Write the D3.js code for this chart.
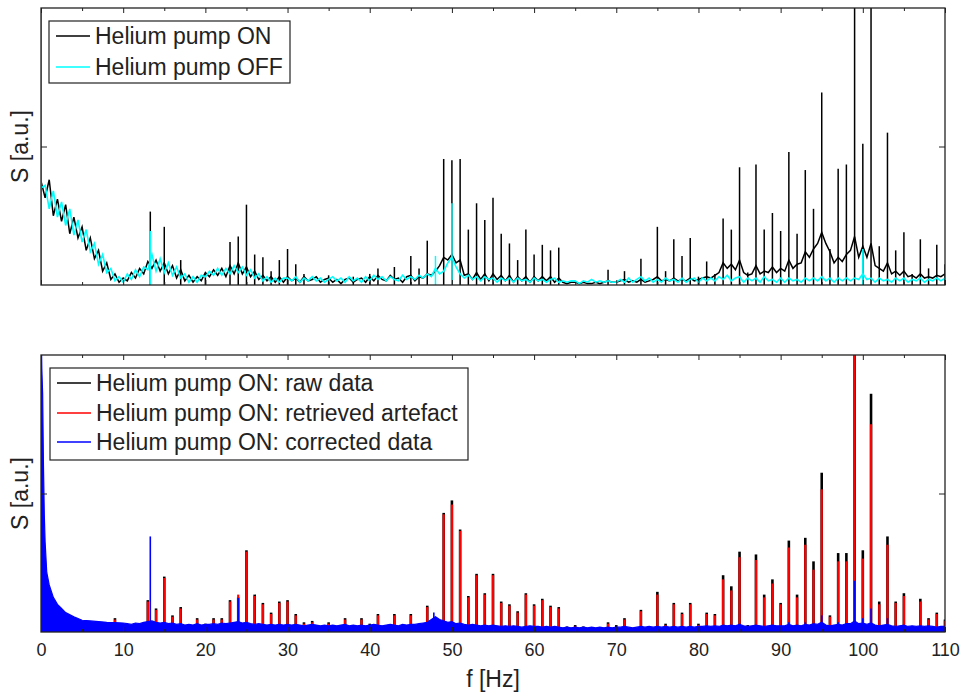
<!DOCTYPE html>
<html>
<head>
<meta charset="utf-8">
<script src="https://cdn.jsdelivr.net/npm/d3@7"></script>
<style>
  body { margin: 0; background: #fff; }
  svg { display: block; }
  text { font-family: "Liberation Sans", Arial, Helvetica, sans-serif; }
</style>
</head>
<body>
<svg id="chart" width="964" height="693"></svg>
<script>
// ---- spectra (S in a.u., f in Hz) ----
// Background spectra sampled every fStep Hz starting at 0 Hz
const fStep = 0.5;

const offBase = [
  0.70,0.72,0.55,0.68,0.49,0.60,0.43,0.55,0.36,0.47,
  0.31,0.40,0.24,0.30,0.15,0.22,0.09,0.12,0.03,0.06,
  0.02,0.08,0.04,0.11,0.06,0.13,0.11,0.22,0.10,0.19,
  0.09,0.16,0.07,0.13,0.05,0.08,0.02,0.06,0.02,0.07,
  0.06,0.10,0.07,0.12,0.07,0.12,0.08,0.14,0.09,0.13,
  0.07,0.11,0.05,0.08,0.03,0.06,0.02,0.05,0.02,0.05,
  0.05,0.03,0.06,0.02,0.05,0.03,0.06,0.03,0.05,0.02,
  0.04,0.06,0.03,0.05,0.02,0.06,0.03,0.05,0.02,0.06,
  0.03,0.07,0.04,0.06,0.03,0.06,0.04,0.03,0.07,0.04,
  0.06,0.04,0.07,0.05,0.08,0.06,0.12,0.08,0.10,0.16,
  0.20,0.13,0.08,0.05,0.07,0.04,0.06,0.03,0.06,0.04,
  0.05,0.02,0.05,0.03,0.05,0.02,0.05,0.03,0.04,0.02,
  0.05,0.03,0.04,0.02,0.04,0.05,0.02,0.03,0.02,0.03,
  0.03,0.01,0.03,0.02,0.04,0.02,0.03,0.02,0.03,0.02,
  0.02,0.04,0.02,0.05,0.02,0.04,0.06,0.03,0.05,0.02,
  0.04,0.02,0.05,0.03,0.04,0.02,0.05,0.02,0.04,0.05,
  0.02,0.05,0.03,0.05,0.03,0.06,0.04,0.07,0.03,0.05,
  0.06,0.02,0.05,0.03,0.05,0.02,0.06,0.03,0.04,0.02,
  0.05,0.02,0.05,0.03,0.04,0.02,0.05,0.03,0.05,0.03,
  0.06,0.03,0.05,0.02,0.05,0.03,0.05,0.03,0.05,0.04,
  0.08,0.04,0.05,0.02,0.05,0.03,0.04,0.02,0.05,0.03,
  0.05,0.02,0.04,0.03,0.05,0.02,0.04,0.03,0.05,0.03,
  0.05
];

const onBase = [
  0.75,0.63,0.76,0.50,0.62,0.46,0.58,0.37,0.49,0.34,
  0.42,0.25,0.34,0.19,0.25,0.10,0.16,0.04,0.08,0.02,
  0.05,0.03,0.09,0.05,0.12,0.08,0.17,0.12,0.18,0.10,
  0.16,0.08,0.14,0.05,0.11,0.03,0.07,0.02,0.06,0.03,
  0.09,0.06,0.11,0.07,0.12,0.06,0.14,0.08,0.16,0.08,
  0.13,0.06,0.10,0.04,0.07,0.03,0.06,0.02,0.06,0.02,
  0.06,0.03,0.05,0.02,0.06,0.03,0.04,0.06,0.02,0.04,
  0.05,0.02,0.04,0.01,0.04,0.05,0.02,0.04,0.05,0.02,
  0.06,0.03,0.07,0.04,0.03,0.07,0.04,0.05,0.02,0.06,
  0.07,0.03,0.06,0.05,0.08,0.07,0.10,0.14,0.20,0.18,
  0.22,0.16,0.18,0.07,0.08,0.04,0.09,0.04,0.08,0.03,
  0.08,0.04,0.07,0.03,0.07,0.02,0.06,0.03,0.06,0.02,
  0.06,0.03,0.06,0.03,0.06,0.02,0.05,0.02,0.01,0.02,
  0.02,0.01,0.02,0.01,0.01,0.02,0.01,0.02,0.03,0.02,
  0.02,0.03,0.04,0.02,0.03,0.02,0.04,0.02,0.03,0.04,
  0.06,0.03,0.04,0.03,0.05,0.03,0.04,0.03,0.05,0.03,
  0.04,0.05,0.06,0.05,0.07,0.09,0.16,0.12,0.15,0.11,
  0.18,0.09,0.07,0.08,0.14,0.08,0.10,0.09,0.13,0.09,
  0.12,0.10,0.18,0.12,0.15,0.16,0.24,0.20,0.26,0.30,
  0.38,0.30,0.24,0.16,0.20,0.17,0.22,0.25,0.35,0.20,
  0.28,0.20,0.30,0.14,0.12,0.10,0.16,0.08,0.10,0.07,
  0.10,0.06,0.07,0.05,0.08,0.05,0.06,0.05,0.07,0.06,
  0.08
];

// Narrow spectral lines: [f, S]
const onPeaks = [
  [0,2.3],[13.3,0.53],[15,0.42],[17,0.18],[20,0.08],[23,0.31],
  [24,0.35],[25,0.58],[26,0.22],[27,0.2],[28,0.1],[29,0.18],[30,0.26],[31,0.15],[32,0.08],
  [35,0.07],[38,0.06],[40,0.08],[41,0.12],[43,0.13],[45,0.21],[46,0.12],[47,0.32],[49,0.91],
  [50,0.9],[51,0.91],[52,0.4],[53,0.59],[54,0.47],[55,0.63],[56,0.37],[57,0.3],
  [58,0.18],[59,0.4],[60,0.22],[61,0.29],[62,0.25],[63,0.27],[69,0.11],[71,0.1],
  [73,0.19],[75,0.42],[76,0.1],[77,0.33],[78,0.21],[79,0.34],[80,0.06],[81,0.17],
  [82,0.08],[83,0.48],[84,0.4],[85,0.85],[86,0.09],[87,0.87],[88,0.4],[89,0.52],
  [90,0.39],[91,0.96],[92,0.37],[93,0.83],[94,0.55],[95,1.39],[96,0.26],[97,0.84],
  [98,0.87],[99,2.3],[100,1.02],[101,2.3],[102,0.28],[103,1.1],[104,0.25],[105,0.38],
  [106,0.08],[107,0.33],[108,0.12],[109,0.29],[110,0.15]
];
const offPeaks = [[0,2.3],[13.3,0.39],[48,0.21],[50,0.59],[100,0.26]];

// Lower panel: raw data, retrieved artefact and corrected data
const rawPeaks = [
  [9,0.1],[13,0.23],[14,0.17],[15,0.4],[16,0.12],[17,0.18],[18,0.05],[19,0.1],[20,0.06],
  [21,0.1],[22,0.1],[23,0.23],[24,0.25],[25,0.59],[26,0.27],[27,0.21],[28,0.14],[29,0.22],
  [30,0.23],[31,0.13],[32,0.07],[33,0.08],[35,0.07],[37,0.1],[38,0.04],[39,0.1],[40,0.06],
  [41,0.13],[42,0.04],[43,0.13],[44,0.03],[45,0.13],[46,0.05],[47,0.19],[49,0.86],[50,0.95],
  [51,0.74],[52,0.26],[53,0.42],[54,0.28],[55,0.42],[56,0.22],[57,0.2],[58,0.15],[59,0.28],
  [60,0.2],[61,0.24],[62,0.19],[63,0.18],[64,0.04],[65,0.05],[66,0.04],[69,0.07],[70,0.05],
  [71,0.1],[73,0.16],[75,0.29],[76,0.06],[77,0.21],[78,0.14],[79,0.21],[80,0.06],[81,0.14],
  [82,0.13],[83,0.41],[84,0.33],[85,0.58],[86,0.05],[87,0.56],[88,0.27],[89,0.38],[90,0.21],
  [91,0.66],[92,0.27],[93,0.68],[94,0.51],[95,1.15],[96,0.12],[97,0.57],[98,0.57],[99,2.3],
  [100,0.59],[101,1.72],[102,0.22],[103,0.69],[104,0.22],[105,0.28],[106,0.04],[107,0.24],
  [108,0.1],[109,0.14],[110,0.09]
];
const artefactPeaks = [
  [9,0.09],[13,0.22],[14,0.16],[15,0.39],[16,0.11],[17,0.17],[18,0.04],[19,0.09],[20,0.04],
  [21,0.09],[22,0.09],[23,0.22],[24,0.27],[25,0.58],[26,0.26],[27,0.2],[28,0.13],[29,0.21],
  [30,0.22],[31,0.12],[32,0.06],[33,0.07],[35,0.06],[37,0.09],[38,0.03],[39,0.09],[40,0.04],
  [41,0.12],[42,0.03],[43,0.12],[44,0.02],[45,0.12],[46,0.04],[47,0.18],[49,0.85],[50,0.92],
  [51,0.73],[52,0.25],[53,0.41],[54,0.27],[55,0.41],[56,0.21],[57,0.19],[58,0.14],[59,0.27],
  [60,0.19],[61,0.23],[62,0.18],[63,0.17],[64,0.03],[65,0.04],[66,0.03],[69,0.06],[70,0.03],
  [71,0.09],[73,0.15],[75,0.27],[76,0.05],[77,0.2],[78,0.13],[79,0.2],[80,0.05],[81,0.13],
  [82,0.12],[83,0.38],[84,0.3],[85,0.54],[86,0.04],[87,0.52],[88,0.25],[89,0.35],[90,0.2],
  [91,0.61],[92,0.25],[93,0.63],[94,0.45],[95,1.03],[96,0.11],[97,0.51],[98,0.51],[99,2.3],
  [100,0.53],[101,1.5],[102,0.2],[103,0.63],[104,0.21],[105,0.26],[106,0.03],[107,0.22],
  [108,0.09],[109,0.13],[110,0.08]
];
const correctedPeaks = [
  [13.3,0.69],[24,0.245],[47.8,0.14],[85,0.06],[91,0.07],[93,0.07],[95,0.12],[97,0.07],
  [99,0.37],[100,0.1],[101,0.17],[103,0.1]
];
// Corrected-data noise floor: dense samples below 10 Hz, then every fStep Hz from 10.5 Hz
const correctedLowF = [0,0.05,0.1,0.2,0.3,0.4,0.5,0.7,1,1.5,2,2.5,3,4,5,6,7,8,9,10];
const correctedLowS = [2.3,2.1,1.9,1.72,1.2,0.85,0.65,0.43,0.34,0.25,0.2,0.17,0.14,0.11,0.085,0.08,0.075,0.07,0.068,0.065];
const correctedStart = 10.5;
const correctedEnv = [
  0.06,0.055,0.065,0.06,0.07,0.075,0.08,0.07,0.065,0.07,
  0.06,0.065,0.055,0.06,0.05,0.055,0.05,0.06,0.05,0.055,
  0.055,0.06,0.055,0.065,0.06,0.065,0.07,0.075,0.065,0.07,
  0.06,0.055,0.06,0.055,0.05,0.055,0.05,0.055,0.05,0.055,
  0.05,0.055,0.05,0.045,0.05,0.055,0.05,0.045,0.05,0.045,
  0.05,0.045,0.05,0.055,0.045,0.05,0.045,0.05,0.045,0.05,
  0.055,0.05,0.045,0.05,0.055,0.05,0.045,0.055,0.05,0.055,
  0.055,0.06,0.065,0.07,0.09,0.11,0.09,0.08,0.07,0.075,
  0.06,0.065,0.055,0.05,0.055,0.05,0.045,0.05,0.045,0.05,
  0.045,0.04,0.045,0.04,0.045,0.04,0.035,0.04,0.045,0.04,
  0.04,0.035,0.04,0.035,0.04,0.035,0.03,0.035,0.03,0.035,
  0.03,0.035,0.03,0.035,0.03,0.035,0.03,0.035,0.03,0.035,
  0.035,0.04,0.035,0.03,0.035,0.04,0.035,0.04,0.035,0.04,
  0.035,0.04,0.035,0.04,0.035,0.04,0.035,0.04,0.035,0.04,
  0.04,0.045,0.04,0.045,0.04,0.05,0.045,0.05,0.045,0.055,
  0.045,0.04,0.045,0.05,0.045,0.04,0.045,0.05,0.045,0.045,
  0.045,0.055,0.045,0.05,0.045,0.055,0.05,0.06,0.055,0.07,
  0.05,0.045,0.05,0.055,0.05,0.06,0.06,0.08,0.06,0.065,
  0.055,0.065,0.05,0.045,0.05,0.055,0.045,0.04,0.045,0.05,
  0.04,0.045,0.04,0.045,0.04,0.045,0.04,0.035,0.04,0.04
];

// ---- axes and labels ----
const xMajor = [0,10,20,30,40,50,60,70,80,90,100,110];
const xMinor = [5,15,25,35,45,55,65,75,85,95,105];
const yTicks = [1];
const xLabel = "f [Hz]";
const yLabel = "S [a.u.]";
const topLegend = [
  { label: "Helium pump ON", color: "#000000" },
  { label: "Helium pump OFF", color: "#00ffff" }
];
const bottomLegend = [
  { label: "Helium pump ON: raw data", color: "#000000" },
  { label: "Helium pump ON: retrieved artefact", color: "#ff0000" },
  { label: "Helium pump ON: corrected data", color: "#0000ff" }
];

// ---- drawing ----
const svg = d3.select("#chart");
const x = d3.scaleLinear().domain([0, 110]).range([41, 945]);
const yTop = d3.scaleLinear().domain([0, 2]).range([285, 8]);
const yBot = d3.scaleLinear().domain([0, 2]).range([632, 355]);
const frameColor = "#222";

const defs = svg.append("defs");
function addClip(id, y) {
  const [b, t] = y.range();
  defs.append("clipPath").attr("id", id)
    .append("rect").attr("x", x(0)).attr("y", t)
    .attr("width", x(110) - x(0)).attr("height", b - t);
}
addClip("clipTop", yTop);
addClip("clipBot", yBot);

function seriesLine(values, y, start) {
  return d3.line().x((d, i) => x(start + i * fStep)).y(d => y(d))(values);
}
function drawPeaks(g, peaks, y, color, width) {
  g.append("g").selectAll("line").data(peaks).join("line")
    .attr("x1", d => x(d[0])).attr("x2", d => x(d[0]))
    .attr("y1", y(0)).attr("y2", d => y(d[1]))
    .attr("stroke", color).attr("stroke-width", width);
}

// Upper panel: pump ON vs OFF
const gTop = svg.append("g").attr("clip-path", "url(#clipTop)");
gTop.append("path").attr("d", seriesLine(onBase, yTop, 0))
  .attr("fill", "none").attr("stroke", "#000").attr("stroke-width", 1.5);
drawPeaks(gTop, onPeaks, yTop, "#000", 1.5);
gTop.append("path").attr("d", seriesLine(offBase, yTop, 0))
  .attr("fill", "none").attr("stroke", "#00ffff").attr("stroke-width", 1.6);
drawPeaks(gTop, offPeaks, yTop, "#00ffff", 1.5);

// Lower panel: raw, artefact, corrected
const gBot = svg.append("g").attr("clip-path", "url(#clipBot)");
drawPeaks(gBot, rawPeaks, yBot, "#000", 2.6);
drawPeaks(gBot, artefactPeaks, yBot, "#ff0000", 2.2);
const corrected = correctedLowF.map((f, i) => [f, correctedLowS[i]])
  .concat(correctedEnv.map((v, i) => [correctedStart + i * fStep, v]));
gBot.append("path")
  .attr("d", d3.area().x(d => x(d[0])).y0(yBot(0)).y1(d => yBot(d[1]))(corrected))
  .attr("fill", "#0000ff").attr("stroke", "#0000ff").attr("stroke-width", 1.2);
drawPeaks(gBot, correctedPeaks, yBot, "#0000ff", 1.6);

// Frames, ticks (pointing inward) and labels
function frame(y, labelled) {
  const [b, t] = y.range();
  const g = svg.append("g");
  const styleAxis = sel => {
    sel.select(".domain").remove();
    sel.selectAll(".tick line").attr("stroke", frameColor).attr("stroke-width", 1);
    sel.selectAll(".tick text").attr("fill", "#222").style("font-size", "18px")
      .style("font-family", '"Liberation Sans", Arial, sans-serif');
  };
  g.append("g").attr("transform", `translate(0,${b})`)
    .call(d3.axisBottom(x).tickValues(xMajor).tickSize(-5).tickPadding(11)
      .tickFormat(labelled ? d3.format("d") : () => ""))
    .call(styleAxis);
  g.append("g").attr("transform", `translate(0,${b})`)
    .call(d3.axisBottom(x).tickValues(xMinor).tickSize(-3).tickFormat(() => ""))
    .call(styleAxis);
  g.append("g").attr("transform", `translate(0,${t})`)
    .call(d3.axisTop(x).tickValues(xMajor).tickSize(-5).tickFormat(() => ""))
    .call(styleAxis);
  g.append("g").attr("transform", `translate(0,${t})`)
    .call(d3.axisTop(x).tickValues(xMinor).tickSize(-3).tickFormat(() => ""))
    .call(styleAxis);
  g.append("g").attr("transform", `translate(${x(0)},0)`)
    .call(d3.axisLeft(y).tickValues(yTicks).tickSize(-6).tickFormat(() => ""))
    .call(styleAxis);
  g.append("g").attr("transform", `translate(${x(110)},0)`)
    .call(d3.axisRight(y).tickValues(yTicks).tickSize(-6).tickFormat(() => ""))
    .call(styleAxis);
  g.append("rect").attr("x", x(0)).attr("y", t)
    .attr("width", x(110) - x(0)).attr("height", b - t)
    .attr("fill", "none").attr("stroke", frameColor).attr("stroke-width", 1.3);
  svg.append("text")
    .attr("transform", `translate(28,${(b + t) / 2}) rotate(-90)`)
    .attr("text-anchor", "middle").style("font-size", "23px").attr("fill", "#222")
    .text(yLabel);
}
frame(yTop, false);
frame(yBot, true);

svg.append("text").attr("x", (x(0) + x(110)) / 2).attr("y", 687)
  .attr("text-anchor", "middle").style("font-size", "23px").attr("fill", "#222")
  .text(xLabel);

function legend(x0, y0, w, h, items, rowY) {
  const g = svg.append("g");
  g.append("rect").attr("x", x0).attr("y", y0).attr("width", w).attr("height", h)
    .attr("fill", "#fff").attr("stroke", frameColor).attr("stroke-width", 1.2);
  items.forEach((it, i) => {
    const yy = rowY[i];
    g.append("line").attr("x1", x0 + 7).attr("x2", x0 + 41).attr("y1", yy).attr("y2", yy)
      .attr("stroke", it.color).attr("stroke-width", 1.4);
    g.append("text").attr("x", x0 + 46).attr("y", yy + 8)
      .style("font-size", "23px").attr("fill", "#222").text(it.label);
  });
}
legend(49, 21, 241, 62, topLegend, [36, 67]);
legend(50, 368, 418, 92, bottomLegend, [383, 413, 442]);
</script>
</body>
</html>
